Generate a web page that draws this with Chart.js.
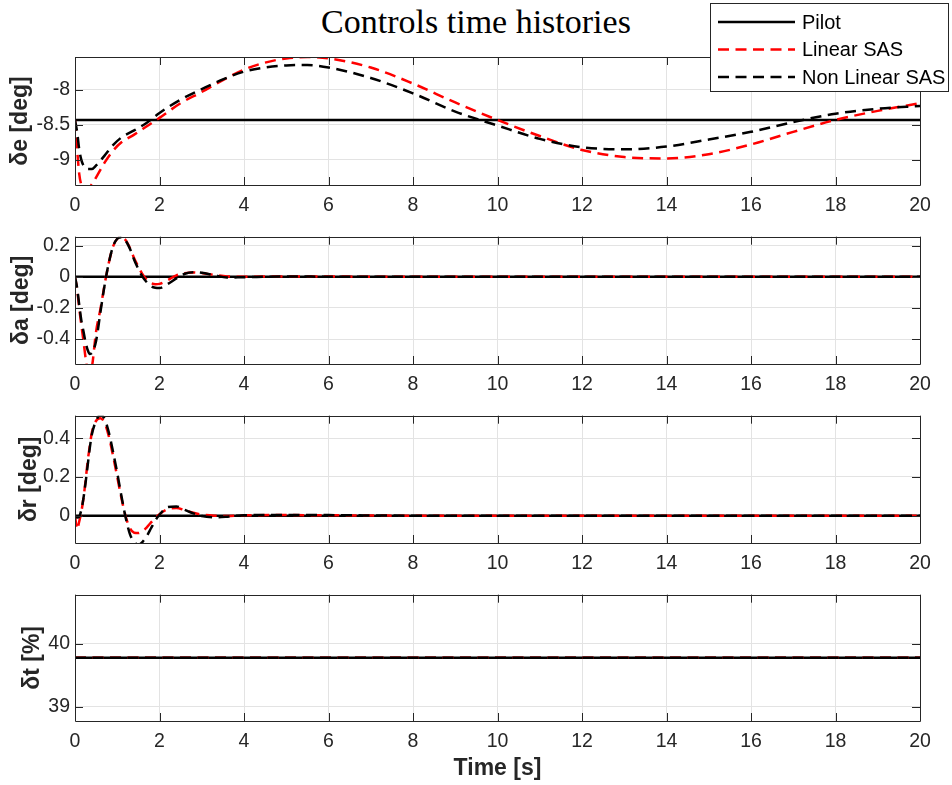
<!DOCTYPE html>
<html>
<head>
<meta charset="utf-8">
<script src="https://cdn.jsdelivr.net/npm/chart.js@4/dist/chart.umd.min.js"></script>
<style>
  body { margin: 0; background: #fff; width: 952px; height: 785px; position: relative; overflow: hidden; }
  canvas { position: absolute; left: 0; }
  #title { position: absolute; left: 0; width: 952px; top: 3px; line-height: 38px; text-align: center;
           font-family: 'Liberation Serif', 'DejaVu Serif', serif; font-size: 34px; color: #000; }
</style>
</head>
<body>
<div id="title">Controls time histories</div>
<canvas id="c1"></canvas>
<canvas id="c2"></canvas>
<canvas id="c3"></canvas>
<canvas id="c4"></canvas>
<script>
// time bases [s]
const tP = [0, 20];
const tE = [0, 0.05, 0.1, 0.15, 0.2, 0.3, 0.4, 0.5, 0.7, 0.9, 1.1, 1.4, 1.7, 2, 2.5, 3, 3.5, 4, 4.5, 5,
            5.5, 6, 7, 8, 9, 10, 11, 12, 13, 14, 15, 16, 17, 18, 19, 20];
const tL = [0, 0.05, 0.1, 0.15, 0.2, 0.25, 0.3, 0.35, 0.4, 0.5, 0.6, 0.7, 0.8, 0.9, 1.0, 1.1, 1.2, 1.3,
            1.4, 1.5, 1.6, 1.7, 1.8, 1.9, 2.0, 2.2, 2.4, 2.6, 2.8, 3.0, 3.3, 3.6, 4.0, 5, 6, 8, 10, 12,
            14, 16, 18, 20];

// elevator [deg]
const pilotDe = [-8.43, -8.43];
const linDe = [-8.43, -8.85, -9.2, -9.36, -9.42, -9.42, -9.35, -9.25, -9.04, -8.87, -8.75, -8.64, -8.52,
               -8.40, -8.19, -8.03, -7.86, -7.71, -7.61, -7.55, -7.53, -7.55, -7.68, -7.91, -8.18, -8.43,
               -8.66, -8.86, -8.96, -8.98, -8.92, -8.78, -8.60, -8.43, -8.30, -8.19];
const nlDe = [-8.43, -8.6, -8.85, -9.0, -9.08, -9.13, -9.13, -9.08, -8.94, -8.79, -8.68, -8.58, -8.47,
              -8.33, -8.14, -7.99, -7.85, -7.74, -7.68, -7.65, -7.645, -7.68, -7.83, -8.05, -8.31, -8.51,
              -8.70, -8.82, -8.85, -8.81, -8.71, -8.60, -8.46, -8.34, -8.27, -8.23];

// aileron [deg]
const pilotDa = [0, 0];
const linDa = [0, -0.08, -0.2, -0.31, -0.41, -0.52, -0.6, -0.62, -0.58,
               -0.35, -0.21, -0.05, 0.09, 0.195, 0.245, 0.255, 0.235, 0.185, 0.12, 0.065, 0.015, -0.02,
               -0.04, -0.047, -0.045, -0.02, 0.01, 0.024, 0.028, 0.024, 0.012, 0.003, 0,
               0.003, 0.002, 0, 0, 0, 0, 0, 0, 0];
const nlDa = [0, -0.07, -0.18, -0.28, -0.35, -0.42, -0.47, -0.495, -0.49,
              -0.41, -0.23, -0.055, 0.09, 0.195, 0.245, 0.255, 0.232, 0.18, 0.11, 0.05, 0.0, -0.035,
              -0.06, -0.07, -0.072, -0.045, -0.01, 0.02, 0.03, 0.026, 0.01, -0.004, -0.002,
              0.002, 0.001, 0, 0, 0, 0, 0, 0, 0];

// rudder [deg]
const pilotDr = [0, 0];
const linDr = [0, -0.07, -0.03, 0.02, 0.09, 0.18, 0.28, 0.36, 0.43,
               0.49, 0.503, 0.48, 0.41, 0.31, 0.2, 0.09, -0.005, -0.065, -0.088, -0.09, -0.08, -0.06,
               -0.035, -0.012, 0.008, 0.034, 0.04, 0.028, 0.015, 0.006, 0, -0.002, 0.002,
               0.003, 0.002, 0, 0, 0, 0, 0, 0, 0];
const nlDr = [0, -0.01, -0.005, 0.03, 0.09, 0.17, 0.26, 0.35, 0.42,
              0.49, 0.52, 0.5, 0.43, 0.33, 0.22, 0.1, -0.01, -0.095, -0.135, -0.15, -0.135, -0.105,
              -0.065, -0.025, 0.005, 0.045, 0.048, 0.03, 0.012, -0.002, -0.008, -0.005, 0.002,
              0.004, 0.003, 0, 0, 0, 0, 0, 0, 0];

// throttle [%]
const pilotDt = [39.775, 39.775];
const linDt = [39.775, 39.775];
const nlDt = [39.775, 39.775];

// axis ticks
const xTicks = [0, 2, 4, 6, 8, 10, 12, 14, 16, 18, 20];
const yTicksE = [-9, -8.5, -8];
const yTicksA = [-0.4, -0.2, 0, 0.2];
const yTicksR = [0, 0.2, 0.4];
const yTicksT = [39, 40];

const AXIS = '#262626';
const GRID = '#e3e3e3';
const SANS = '"Liberation Sans", Arial, Helvetica, sans-serif';
const DASH = [11, 6.5];

function series(t, v) {
  return t.map((x, i) => ({x: x, y: v[i]}));
}

function makeDatasets(tc, pilot, lin, nl) {
  const common = {pointRadius: 0, borderWidth: 2.5, fill: false, clip: 0,
                  cubicInterpolationMode: 'monotone', borderCapStyle: 'butt'};
  return [
    Object.assign({label: 'Pilot', data: series(tP, pilot), borderColor: '#000', order: 3}, common),
    Object.assign({label: 'Linear SAS', data: series(tc, lin), borderColor: '#ff0000', borderDash: DASH, order: 2}, common),
    Object.assign({label: 'Non Linear SAS', data: series(tc, nl), borderColor: '#000', borderDash: DASH, order: 1}, common)
  ];
}

// full axes box with inward tick marks
const boxPlugin = {
  id: 'axesBox',
  afterDatasetsDraw(chart) {
    const ctx = chart.ctx;
    const a = chart.chartArea;
    const xs = chart.scales.x, ys = chart.scales.y;
    const L = 8;
    ctx.save();
    ctx.strokeStyle = AXIS;
    ctx.lineWidth = 1;
    ctx.beginPath();
    xs.ticks.forEach(t => {
      const px = Math.round(xs.getPixelForValue(t.value)) + 0.5;
      ctx.moveTo(px, a.bottom); ctx.lineTo(px, a.bottom - L);
      ctx.moveTo(px, a.top); ctx.lineTo(px, a.top + L);
    });
    ys.ticks.forEach(t => {
      const py = Math.round(ys.getPixelForValue(t.value)) + 0.5;
      ctx.moveTo(a.left, py); ctx.lineTo(a.left + L, py);
      ctx.moveTo(a.right, py); ctx.lineTo(a.right - L, py);
    });
    ctx.rect(Math.round(a.left) + 0.5, Math.round(a.top) + 0.5,
             Math.round(a.right - a.left), Math.round(a.bottom - a.top));
    ctx.stroke();
    ctx.restore();
  }
};

// boxed legend in the upper right corner of the figure
const legendPlugin = {
  id: 'boxLegend',
  afterDraw(chart) {
    const ctx = chart.ctx;
    ctx.save();
    ctx.fillStyle = '#fff';
    ctx.fillRect(710, 3, 239, 89);
    ctx.strokeStyle = AXIS;
    ctx.lineWidth = 1;
    ctx.strokeRect(710.5, 3.5, 238, 88);
    ctx.font = '20px ' + SANS;
    ctx.textBaseline = 'middle';
    chart.data.datasets.forEach((ds, i) => {
      const y = 22 + i * 27.5;
      ctx.beginPath();
      ctx.setLineDash(ds.borderDash || []);
      ctx.strokeStyle = ds.borderColor;
      ctx.lineWidth = 2.5;
      ctx.moveTo(718, y);
      ctx.lineTo(795, y);
      ctx.stroke();
      ctx.setLineDash([]);
      ctx.fillStyle = '#000';
      ctx.fillText(ds.label, 802, y + 1);
    });
    ctx.restore();
  }
};

const panels = [
  {id: 'c1', top: 0, plotTop: 57, plotBottom: 185, label: 'δe [deg]', labelPad: 7.2,
   min: -9.36, max: -7.53, yTicks: yTicksE, tc: tE, pilot: pilotDe, lin: linDe, nl: nlDe, legend: true},
  {id: 'c2', top: 220, plotTop: 235, plotBottom: 364, label: 'δa [deg]', labelPad: 8.2,
   min: -0.56, max: 0.258, yTicks: yTicksA, tc: tL, pilot: pilotDa, lin: linDa, nl: nlDa},
  {id: 'c3', top: 399, plotTop: 414, plotBottom: 543, label: 'δr [deg]', labelPad: 16.2,
   min: -0.141, max: 0.516, yTicks: yTicksR, tc: tL, pilot: pilotDr, lin: linDr, nl: nlDr},
  {id: 'c4', top: 578, plotTop: 593, plotBottom: 721, label: 'δt [%]', labelPad: 19.2,
   min: 38.775, max: 40.775, yTicks: yTicksT, tc: tP, pilot: pilotDt, lin: linDt, nl: nlDt, xTitle: 'Time [s]'}
];

panels.forEach(p => {
  const canvas = document.getElementById(p.id);
  const axisH = p.xTitle ? 785 - p.plotBottom : 40;
  const h = p.plotBottom + axisH - p.top;
  canvas.width = 952;
  canvas.height = h;
  canvas.style.top = p.top + 'px';

  new Chart(canvas, {
    type: 'line',
    data: {datasets: makeDatasets(p.tc, p.pilot, p.lin, p.nl)},
    options: {
      responsive: false,
      animation: false,
      events: [],
      layout: {padding: {top: p.plotTop - p.top, right: 32, bottom: 0, left: 0}},
      plugins: {legend: {display: false}, tooltip: {enabled: false}},
      scales: {
        x: {
          type: 'linear', min: 0, max: 20,
          afterBuildTicks: s => { s.ticks = xTicks.map(v => ({value: v})); },
          afterFit: s => { s.height = axisH; },
          grid: {color: GRID, lineWidth: 1, drawTicks: false},
          border: {display: false},
          ticks: {color: AXIS, font: {family: SANS, size: 19.5}, padding: 9, maxRotation: 0,
                  callback: v => String(v)},
          title: {display: !!p.xTitle, text: p.xTitle || '', color: AXIS,
                  font: {family: SANS, size: 23, weight: 'bold'}, padding: {top: 0, bottom: 2.5}}
        },
        y: {
          type: 'linear', min: p.min, max: p.max,
          afterBuildTicks: s => { s.ticks = p.yTicks.map(v => ({value: v})); },
          afterFit: s => { s.width = 75; },
          grid: {color: GRID, lineWidth: 1, drawTicks: false},
          border: {display: false},
          ticks: {color: AXIS, font: {family: SANS, size: 19.5}, padding: 5,
                  callback: v => String(v)},
          title: {display: true, text: p.label, color: AXIS,
                  font: {family: SANS, size: 23, weight: 'bold'}, padding: {top: p.labelPad, bottom: 0}}
        }
      }
    },
    plugins: p.legend ? [boxPlugin, legendPlugin] : [boxPlugin]
  });
});
</script>
</body>
</html>
